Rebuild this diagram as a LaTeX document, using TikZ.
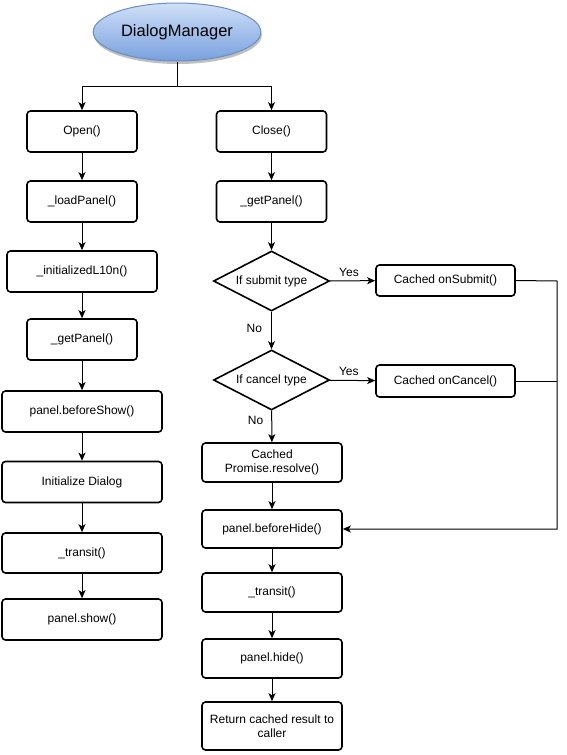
\documentclass[tikz,border=0pt]{standalone}
\usepackage{fontspec}
\setmainfont{Liberation Sans}
\usetikzlibrary{shapes.geometric, arrows.meta, shadows}
\definecolor{dmtop}{RGB}{208, 224, 248}
\definecolor{dmbottom}{RGB}{120, 160, 222}
\definecolor{dmborder}{RGB}{108, 142, 191}
\tikzset{
    procbox/.style={draw, line width=1.6pt, rounded corners=3.5pt, minimum width=110pt, minimum height=41pt, align=center, font=\fontsize{12}{14}\selectfont},
    decision/.style={draw, diamond, aspect=2, line width=1.6pt, inner sep=0pt, minimum width=116pt, minimum height=60pt, font=\fontsize{12}{14}\selectfont},
    startnode/.style={draw=dmborder, ellipse, line width=1pt, top color=dmtop, bottom color=dmbottom, minimum width=141pt, minimum height=58pt, font=\fontsize{16.5}{18}\selectfont, drop shadow={shadow xshift=1pt, shadow yshift=-3pt, fill=black, opacity=0.25}},
    arrow/.style={-{Stealth[length=8pt, width=7pt, inset=2pt]}, line width=1pt},
    link/.style={line width=1pt},
    answer/.style={font=\fontsize{12}{14}\selectfont, inner sep=1pt}
}
\begin{document}
\begin{tikzpicture}[x=1pt, y=-1pt]
    \useasboundingbox (0,0) rectangle (566,755);

    % Start
    \node[startnode] (dm) at (177, 32) {DialogManager};
    \coordinate (split) at (177, 86);

    % Open branch
    \node[procbox] (open) at (82, 131.5) {Open()};
    \node[procbox] (loadp) at (82, 201.5) {\_loadPanel()};
    \node[procbox, minimum width=150pt] (initl) at (82, 271.5) {\_initializedL10n()};
    \node[procbox] (getpl) at (82, 339.5) {\_getPanel()};
    \node[procbox, minimum width=160pt] (bshow) at (82, 411.5) {panel.beforeShow()};
    \node[procbox, minimum width=160pt] (initd) at (82, 482) {Initialize Dialog};
    \node[procbox, minimum width=160pt, minimum height=40pt] (transl) at (82, 553) {\_transit()};
    \node[procbox, minimum width=160pt] (pshow) at (82, 619.5) {panel.show()};

    % Close branch
    \node[procbox] (close) at (271.5, 131.5) {Close()};
    \node[procbox] (getpr) at (271.5, 201.5) {\_getPanel()};
    \node[decision] (sub) at (271.5, 281) {If submit type};
    \node[procbox, minimum width=139pt, minimum height=31pt] (subcb) at (445.5, 280.5) {Cached onSubmit()};
    \node[decision] (can) at (271.5, 380) {If cancel type};
    \node[procbox, minimum width=139pt, minimum height=32pt] (cancb) at (445.5, 381) {Cached onCancel()};
    \node[procbox, minimum width=140pt, minimum height=39pt] (resolve) at (272, 462.5) {Cached\\Promise.resolve()};
    \node[procbox, minimum width=140pt, minimum height=38pt] (bhide) at (272, 529) {panel.beforeHide()};
    \node[procbox, minimum width=140pt, minimum height=39pt] (transr) at (272, 592.5) {\_transit()};
    \node[procbox, minimum width=140pt, minimum height=39pt] (phide) at (272, 658.5) {panel.hide()};
    \node[procbox, minimum width=140pt, minimum height=48pt] (ret) at (272, 726) {Return cached result to\\caller};
    \coordinate (rail) at (557, 281);

    % Arrows
    \draw[link] (dm.south) -- (split);
    \draw[arrow] (split) -| (open.north);
    \draw[arrow] (split) -| (close.north);

    \draw[arrow] (open) -- (loadp);
    \draw[arrow] (loadp) -- (initl);
    \draw[arrow] (initl) -- (getpl);
    \draw[arrow] (getpl) -- (bshow);
    \draw[arrow] (bshow) -- (initd);
    \draw[arrow] (initd) -- (transl);
    \draw[arrow] (transl) -- (pshow);

    \draw[arrow] (close) -- (getpr);
    \draw[arrow] (getpr) -- (sub);
    \draw[arrow] (sub) -- node[answer, above=3pt, pos=0.42] {Yes} (subcb);
    \draw[arrow] (sub) -- node[answer, left=8pt, pos=0.45] {No} (can);
    \draw[arrow] (can) -- node[answer, above=3pt, pos=0.42] {Yes} (cancb);
    \draw[arrow] (can) -- node[answer, left=7pt, pos=0.3] {No} (resolve);
    \draw[arrow] (resolve) -- (bhide);
    \draw[arrow] (bhide) -- (transr);
    \draw[arrow] (transr) -- (phide);
    \draw[arrow] (phide) -- (ret);

    \draw[arrow] (subcb.east) -- (rail) |- (bhide.east);
    \draw[link] (cancb.east) -- (cancb.east -| rail);
\end{tikzpicture}
\end{document}
